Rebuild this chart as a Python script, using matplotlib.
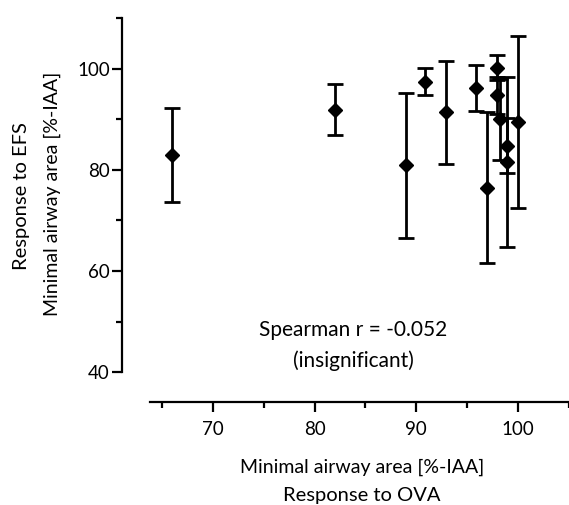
import matplotlib
matplotlib.use('Agg')
import matplotlib.pyplot as plt

plt.rcParams['font.family'] = ['Lato', 'DejaVu Sans']

# Response to OVA (x) vs response to EFS (y), mean +/- error
ova = [66.0, 82.0, 89.0, 90.9, 92.9, 95.9, 96.9, 97.9, 97.9, 98.2, 98.9, 98.9, 100.0]
efs = [83.0, 91.9, 80.9, 97.4, 91.4, 96.2, 76.5, 100.2, 94.7, 90.0, 84.8, 81.5, 89.5]
efs_err = [9.3, 5.1, 14.3, 2.7, 10.2, 4.6, 15.0, 2.4, 3.6, 8.0, 5.4, 16.8, 17.0]

x_major = [70, 80, 90, 100]
x_minor = [65, 75, 85, 95, 105]
y_major = [40, 60, 80, 100]
y_minor = [50, 70, 90, 110]

fig = plt.figure(figsize=(5.69, 5.05), dpi=100)
ax = fig.add_axes([150 / 569, (505 - 372.3) / 505, 419 / 569, 354.3 / 505])

ax.errorbar(ova, efs, yerr=efs_err, fmt='D', color='black', markersize=7,
            elinewidth=2, capsize=5.5, capthick=2, ecolor='black')

ax.set_xlim(63.84, 103.14)
ax.set_ylim(40, 110)

for s in ['top', 'right']:
    ax.spines[s].set_visible(False)
ax.spines['left'].set_position(('outward', 20.4))
ax.spines['bottom'].set_position(('outward', 21.6))
ax.spines['left'].set_linewidth(1.6)
ax.spines['bottom'].set_linewidth(1.6)

ax.set_xticks(x_major)
ax.set_xticks(x_minor, minor=True)
ax.set_yticks(y_major)
ax.set_yticks(y_minor, minor=True)
ax.tick_params(which='major', length=7.5, width=1.6, labelsize=13.5)
ax.tick_params(which='minor', length=4.5, width=1.6)
ax.tick_params(axis='y', which='major', pad=1)
ax.tick_params(axis='x', which='major', pad=6)

ax.text(83.8, 48.4, 'Spearman r = -0.052', ha='center', va='center', fontsize=15)
ax.text(83.8, 42.3, '(insignificant)', ha='center', va='center', fontsize=15)

fig.text(362 / 569, 1 - 467 / 505, 'Minimal airway area [%-IAA]', ha='center', va='center', fontsize=14)
fig.text(362 / 569, 1 - 496 / 505, 'Response to OVA', ha='center', va='center', fontsize=14.5)
fig.text(52 / 569, 1 - 194 / 505, 'Minimal airway area [%-IAA]', ha='center', va='center',
         rotation=90, fontsize=14)
fig.text(22 / 569, 1 - 196 / 505, 'Response to EFS', ha='center', va='center',
         rotation=90, fontsize=14.5)

fig.savefig('out.png', dpi=100)
